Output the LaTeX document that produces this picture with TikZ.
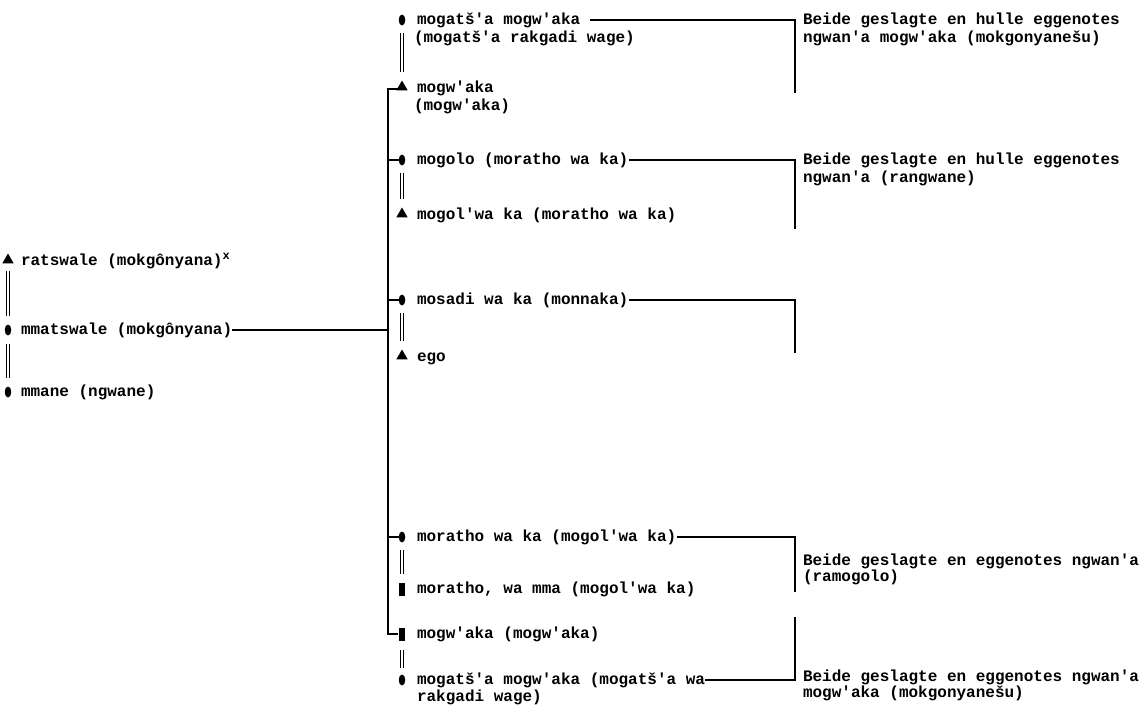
\documentclass[tikz,border=0pt]{standalone}
\usepackage{fontspec}
\setmonofont{Liberation Mono}
\usetikzlibrary{shapes.geometric}
\begin{document}
\begin{tikzpicture}[x=1pt,y=-1pt,
  every node/.style={inner sep=0pt, outer sep=0pt},
  lbl/.style={anchor=west, font=\ttfamily\bfseries\fontsize{16}{18}\selectfont,
              text height=11pt, text depth=3pt},
  fem/.style={ellipse, fill=black, minimum width=6.5pt, minimum height=11pt},
  male/.style={regular polygon, regular polygon sides=3, fill=black, minimum size=13pt},
  sq/.style={rectangle, fill=black, minimum width=6.5pt, minimum height=13pt},
  link/.style={line width=1.2pt, line cap=rect},
  marr/.style={double, double distance=2pt, line width=0.8pt},
]
\fill[white] (0,0) rectangle (1144,716);
\useasboundingbox (0,0) rectangle (1144,716);

% ---- parents' generation (left) ----
\node[male] (sRat) at (8,260) {};
\node[lbl]  (tRat) at (21,261) {ratswale (mokgônyana)\raisebox{6pt}{\fontsize{12}{12}\selectfont x}};
\node[fem]  (sMat) at (8,330) {};
\node[lbl]  (tMat) at (21,330) {mmatswale (mokgônyana)};
\node[fem]  (sMma) at (8,392) {};
\node[lbl]  (tMma) at (21,392) {mmane (ngwane)};
\draw[marr, shorten <=8pt, shorten >=9pt] (sRat) -- (sMat);
\draw[marr, shorten <=8pt, shorten >=9pt] (sMat) -- (sMma);

% ---- children (middle column) ----
% group 1
\node[fem]  (sA1) at (402,20) {};
\node[lbl]  (tA1) at (417,20) {mogatš'a mogw'aka};
\node[lbl]  (tA1b) at (414,38) {(mogatš'a rakgadi wage)};
\node[male] (sA2) at (402,87) {};
\node[lbl]  (tA2) at (417,88) {mogw'aka};
\node[lbl]  (tA2b) at (414,106) {(mogw'aka)};
\draw[marr, shorten <=7pt, shorten >=9pt] (sA1) -- (sA2);
% group 2
\node[fem]  (sB1) at (402,160) {};
\node[lbl]  (tB1) at (417,160) {mogolo (moratho wa ka)};
\node[male] (sB2) at (402,214) {};
\node[lbl]  (tB2) at (417,215) {mogol'wa ka (moratho wa ka)};
\draw[marr, shorten <=7pt, shorten >=9pt] (sB1) -- (sB2);
% group 3
\node[fem]  (sC1) at (402,300) {};
\node[lbl]  (tC1) at (417,300) {mosadi wa ka (monnaka)};
\node[male] (sC2) at (402,356) {};
\node[lbl]  (tC2) at (417,357) {ego};
\draw[marr, shorten <=7pt, shorten >=9pt] (sC1) -- (sC2);
% group 4
\node[fem]  (sD1) at (402,537) {};
\node[lbl]  (tD1) at (417,537) {moratho wa ka (mogol'wa ka)};
\node[sq]   (sD2) at (402,589) {};
\node[lbl]  (tD2) at (417,589) {moratho, wa mma (mogol'wa ka)};
\draw[marr, shorten <=7pt, shorten >=9pt] (sD1) -- (sD2);
% group 5
\node[sq]   (sE1) at (402,634) {};
\node[lbl]  (tE1) at (417,634) {mogw'aka (mogw'aka)};
\node[fem]  (sE2) at (402,680) {};
\node[lbl]  (tE2) at (417,680) {mogatš'a mogw'aka (mogatš'a wa};
\node[lbl]  (tE2b) at (417,697) {rakgadi wage)};
\draw[marr, shorten <=9pt, shorten >=7pt] (sE1) -- (sE2);

% ---- trunk joining the children to the parents ----
\coordinate (trunk) at (388,330);
\draw[link, shorten <=1pt] ([yshift=-2pt]sA2.west) -| (trunk) |- ([xshift=-1pt]sE1.west);
\draw[link, shorten >=2pt] (tMat.east) -- (trunk);
\draw[link] (sB1.west) -- (sB1.west -| trunk);
\draw[link] (sC1.west) -- (sC1.west -| trunk);
\draw[link] (sD1.west) -- (sD1.west -| trunk);

% ---- brackets and notes (right) ----
\coordinate (kA) at (795,92);
\coordinate (kB) at (795,228);
\coordinate (kC) at (795,352);
\coordinate (kD) at (795,591);
\coordinate (kE) at (795,618);
\draw[link, shorten <=10pt] (tA1.east) -| (kA);
\draw[link, shorten <=1pt] (tB1.east) -| (kB);
\draw[link, shorten <=1pt] (tC1.east) -| (kC);
\draw[link, shorten <=1pt] (tD1.east) -| (kD);
\draw[link, shorten <=1pt] (tE2.east) -| (kE);

\node[lbl] (nA1) at (803,20)  {Beide geslagte en hulle eggenotes};
\node[lbl] (nA2) at (803,38)  {ngwan'a mogw'aka (mokgonyanešu)};
\node[lbl] (nB1) at (803,160) {Beide geslagte en hulle eggenotes};
\node[lbl] (nB2) at (803,178) {ngwan'a (rangwane)};
\node[lbl] (nD1) at (803,561) {Beide geslagte en eggenotes ngwan'a};
\node[lbl] (nD2) at (803,577) {(ramogolo)};
\node[lbl] (nE1) at (803,677) {Beide geslagte en eggenotes ngwan'a};
\node[lbl] (nE2) at (803,693) {mogw'aka (mokgonyanešu)};
\end{tikzpicture}
\end{document}
